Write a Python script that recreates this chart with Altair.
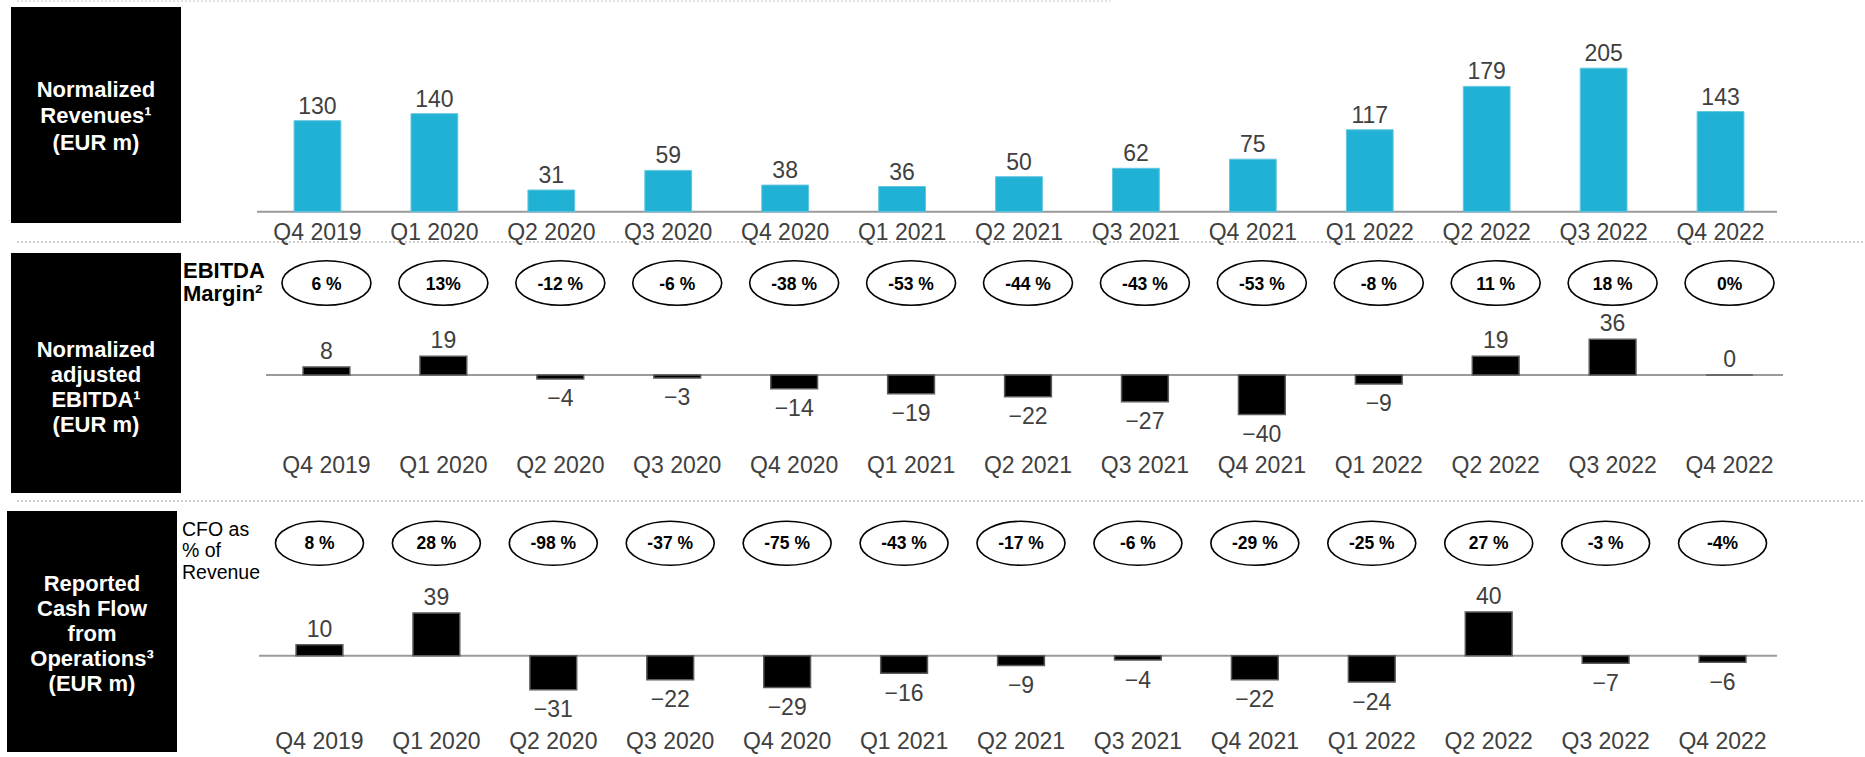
import altair as alt
import pandas as pd

quarters = ["Q4 2019", "Q1 2020", "Q2 2020", "Q3 2020", "Q4 2020", "Q1 2021", "Q2 2021",
            "Q3 2021", "Q4 2021", "Q1 2022", "Q2 2022", "Q3 2022", "Q4 2022"]
revenues = [130, 140, 31, 59, 38, 36, 50, 62, 75, 117, 179, 205, 143]
ebitda = [8, 19, -4, -3, -14, -19, -22, -27, -40, -9, 19, 36, 0]
ebitda_margin = ["6 %", "13%", "-12 %", "-6 %", "-38 %", "-53 %", "-44 %", "-43 %", "-53 %",
                 "-8 %", "11 %", "18 %", "0%"]
cfo = [10, 39, -31, -22, -29, -16, -9, -4, -22, -24, 40, -7, -6]
cfo_pct = ["8 %", "28 %", "-98 %", "-37 %", "-75 %", "-43 %", "-17 %", "-6 %", "-29 %",
           "-25 %", "27 %", "-3 %", "-4%"]

df = pd.DataFrame({"quarter": quarters, "revenue": revenues, "ebitda": ebitda,
                   "margin": ebitda_margin, "cfo": cfo, "cfo_pct": cfo_pct})
one = pd.DataFrame({"k": [0]})

FONT = "Liberation Sans"
GREY_TXT = "#404040"
BLUE = "#20B1D4"


def xenc(r0):
    return alt.X("quarter:N", sort=quarters, axis=None,
                 scale=alt.Scale(domain=quarters, range=[r0, r0 + 1520], paddingInner=0.6, paddingOuter=0.3))


X1 = xenc(259)
X2 = xenc(268)
X3 = xenc(261)

s1 = alt.Scale(domain=[0, 210], range=[211.7, 211.7 - 0.7 * 210], nice=False, zero=False)
s2 = alt.Scale(domain=[-45, 40], range=[375 + 45 * 0.99, 375 - 40 * 0.99], nice=False, zero=False)
s3 = alt.Scale(domain=[-35, 45], range=[655.7 + 35 * 1.095, 655.7 - 45 * 1.095], nice=False, zero=False)

ELLIPSE = ("M-1,0C-1,-0.276,-0.552,-0.5,0,-0.5C0.552,-0.5,1,-0.276,1,0"
           "C1,0.276,0.552,0.5,0,0.5C-0.552,0.5,-1,0.276,-1,0Z")

layers = []

# dashed separators
for (yy, x2, op) in [(1, 1110, 0.6), (242, 1865, 1.0), (501, 1865, 1.0)]:
    layers.append(alt.Chart(one).mark_rule(color="#9a9a9a", strokeDash=[2, 2], strokeWidth=1, opacity=op)
                  .encode(x=alt.value(17), x2=alt.value(x2), y=alt.value(yy)))

# black boxes with titles (y = first line position)
boxes = [
    ((11, 181, 7, 223), 96, 90, 26.3, ["Normalized", "Revenues¹", "(EUR m)"]),
    ((11, 181, 253, 493), 96, 350, 25, ["Normalized", "adjusted", "EBITDA¹", "(EUR m)"]),
    ((7, 177, 511, 752), 92, 583.5, 25, ["Reported", "Cash Flow", "from", "Operations³", "(EUR m)"]),
]
for (bx1, bx2, by1, by2), tx, ty, lh, lines in boxes:
    layers.append(alt.Chart(one).mark_rect(color="black")
                  .encode(x=alt.value(bx1), x2=alt.value(bx2), y=alt.value(by1), y2=alt.value(by2)))
    layers.append(alt.Chart(one).mark_text(text=lines, font=FONT, fontSize=22, fontWeight="bold",
                                           color="white", align="center", baseline="middle", lineHeight=lh)
                  .encode(x=alt.value(tx), y=alt.value(ty)))

# row side labels
layers.append(alt.Chart(one).mark_text(text=["EBITDA", "Margin²"], font=FONT, fontSize=22, fontWeight="bold",
                                       color="black", align="left", baseline="middle", lineHeight=22.5)
              .encode(x=alt.value(183), y=alt.value(271)))
layers.append(alt.Chart(one).mark_text(text=["CFO as", "% of", "Revenue"], font=FONT, fontSize=19.5,
                                       color="black", align="left", baseline="middle", lineHeight=21.7)
              .encode(x=alt.value(182), y=alt.value(529.5)))

base = alt.Chart(df)

# ---- Row 1: revenues
layers.append(alt.Chart(one).mark_rule(color="#9a9a9a", strokeWidth=2)
              .encode(x=alt.value(257), x2=alt.value(1777), y=alt.Y(datum=0, scale=s1, axis=None)))
layers.append(base.mark_bar(color=BLUE, stroke="#62c6e0", strokeWidth=1)
              .encode(x=X1, y=alt.Y("revenue:Q", scale=s1, axis=None)))
layers.append(base.mark_text(font=FONT, fontSize=23, color=GREY_TXT, baseline="middle", dy=-14)
              .encode(x=X1, y=alt.Y("revenue:Q", scale=s1, axis=None), text="revenue:Q"))
layers.append(base.mark_text(font=FONT, fontSize=23, color=GREY_TXT, baseline="middle")
              .encode(x=X1, y=alt.value(233.3), text="quarter:N"))

# ---- Row 2: EBITDA
layers.append(base.mark_point(shape=ELLIPSE, size=7921, filled=False, color="black", strokeWidth=1.6, opacity=1)
              .encode(x=X2, y=alt.value(283)))
layers.append(base.mark_text(font=FONT, fontSize=17.5, fontWeight="bold", color="black", baseline="middle")
              .encode(x=X2, y=alt.value(284.5), text="margin:N"))
layers.append(alt.Chart(one).mark_rule(color="#9a9a9a", strokeWidth=2)
              .encode(x=alt.value(266), x2=alt.value(1783), y=alt.Y(datum=0, scale=s2, axis=None)))
layers.append(base.mark_bar(color="black", stroke="#5a5a5a", strokeWidth=1.5)
              .encode(x=X2, y=alt.Y("ebitda:Q", scale=s2, axis=None)))
layers.append(base.transform_filter(alt.datum.ebitda >= 0)
              .mark_text(font=FONT, fontSize=23, color=GREY_TXT, baseline="middle", dy=-15)
              .encode(x=X2, y=alt.Y("ebitda:Q", scale=s2, axis=None), text="ebitda:Q"))
layers.append(base.transform_filter(alt.datum.ebitda < 0)
              .mark_text(font=FONT, fontSize=23, color=GREY_TXT, baseline="middle", dy=20.5)
              .encode(x=X2, y=alt.Y("ebitda:Q", scale=s2, axis=None), text="ebitda:Q"))
layers.append(base.mark_text(font=FONT, fontSize=23, color=GREY_TXT, baseline="middle")
              .encode(x=X2, y=alt.value(466), text="quarter:N"))

# ---- Row 3: CFO
layers.append(base.mark_point(shape=ELLIPSE, size=7744, filled=False, color="black", strokeWidth=1.6, opacity=1)
              .encode(x=X3, y=alt.value(543.3)))
layers.append(base.mark_text(font=FONT, fontSize=17.5, fontWeight="bold", color="black", baseline="middle")
              .encode(x=X3, y=alt.value(543.8), text="cfo_pct:N"))
layers.append(alt.Chart(one).mark_rule(color="#9a9a9a", strokeWidth=2)
              .encode(x=alt.value(259), x2=alt.value(1777), y=alt.Y(datum=0, scale=s3, axis=None)))
layers.append(base.mark_bar(color="black", stroke="#5a5a5a", strokeWidth=1.5)
              .encode(x=X3, y=alt.Y("cfo:Q", scale=s3, axis=None)))
layers.append(base.transform_filter(alt.datum.cfo >= 0)
              .mark_text(font=FONT, fontSize=23, color=GREY_TXT, baseline="middle", dy=-14.5)
              .encode(x=X3, y=alt.Y("cfo:Q", scale=s3, axis=None), text="cfo:Q"))
layers.append(base.transform_filter(alt.datum.cfo < 0)
              .mark_text(font=FONT, fontSize=23, color=GREY_TXT, baseline="middle", dy=20.7)
              .encode(x=X3, y=alt.Y("cfo:Q", scale=s3, axis=None), text="cfo:Q"))
layers.append(base.mark_text(font=FONT, fontSize=23, color=GREY_TXT, baseline="middle")
              .encode(x=X3, y=alt.value(741.7), text="quarter:N"))

chart = (alt.layer(*layers)
         .resolve_scale(x="independent", y="independent")
         .properties(width=1865, height=757, padding=0,
                     autosize=alt.AutoSizeParams(type="none"), background="white")
         .configure_view(stroke=None))

chart.save("out.html", embed_options={"renderer": "svg", "actions": False})
